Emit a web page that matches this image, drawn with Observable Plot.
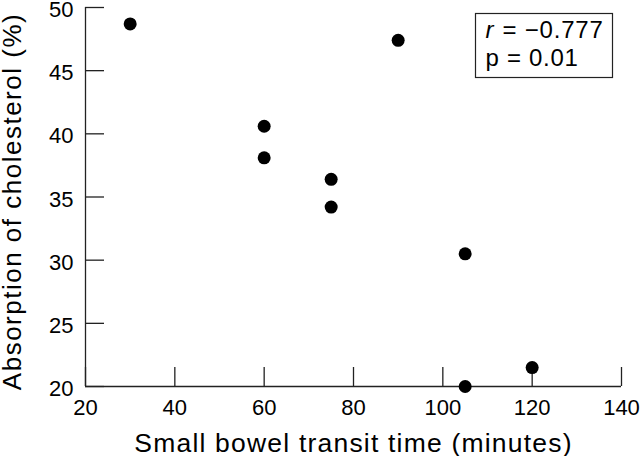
<!DOCTYPE html>
<html>
<head>
<meta charset="utf-8">
<script src="https://cdn.jsdelivr.net/npm/d3@7"></script>
<script src="https://cdn.jsdelivr.net/npm/@observablehq/plot@0.6"></script>
<style>
  html, body { margin: 0; padding: 0; background: #fff; }
  #chart svg { display: block; }
</style>
</head>
<body>
<div id="chart"></div>
<script>
// Data
const transitTime = [30, 60, 60, 75, 75, 90, 105, 105, 120];
const absorption = [48.7, 40.6, 38.1, 36.4, 34.2, 47.4, 30.5, 20.0, 21.5];
const xTicks = [20, 40, 60, 80, 100, 120, 140];
const yTicks = [20, 25, 30, 35, 40, 45, 50];
const xTitle = "Small bowel transit time (minutes)";
const yTitle = "Absorption of cholesterol (%)";
const statR = "= \u22120.777";
const statP = "p = 0.01";

const points = transitTime.map((t, i) => ({t, a: absorption[i]}));

const W = 640, H = 456;
const mL = 85, mR = 19, mT = 7, mB = 70;
const fw = W - mL - mR, fh = H - mT - mB;
const tick = 19;
const ink = "#222";
const font = "'Liberation Sans', Arial, Helvetica, sans-serif";

const chart = Plot.plot({
  width: W,
  height: H,
  marginLeft: mL,
  marginRight: mR,
  marginTop: mT,
  marginBottom: mB,
  style: {fontFamily: font, fontSize: "22px", color: ink, background: "#fff"},
  x: {domain: [20, 140]},
  y: {domain: [20, 50]},
  marks: [
    Plot.axisX({ticks: xTicks, tickSize: 0, tickPadding: 13, label: null, fontSize: 22, fill: "#000"}),
    Plot.axisY({ticks: yTicks, tickSize: 0, tickPadding: 12, dy: 2.5, label: null, fontSize: 22, fill: "#000"}),
    // inward ticks
    Plot.ruleX(xTicks, {x: d => d, insetTop: fh - tick, stroke: ink, strokeWidth: 1.3}),
    Plot.ruleY(yTicks, {y: d => d, insetRight: fw - tick, stroke: ink, strokeWidth: 1.3}),
    // axis lines
    Plot.ruleX([20], {stroke: ink, strokeWidth: 1.3}),
    Plot.ruleY([20], {stroke: ink, strokeWidth: 1.3}),
    // points
    Plot.dot(points, {x: "t", y: "a", r: 6.5, fill: "#000", stroke: null}),
    // stats box
    Plot.frame({insetLeft: 390, insetRight: 9, insetTop: 6, insetBottom: 309, stroke: ink, strokeWidth: 1.2}),
    Plot.text([0], {text: () => "r", frameAnchor: "top-left", dx: 400, dy: 30, lineAnchor: "bottom", textAnchor: "start", fontSize: 24, fontStyle: "italic", fill: "#000"}),
    Plot.text([statR], {text: d => d, frameAnchor: "top-left", dx: 417, dy: 30, lineAnchor: "bottom", textAnchor: "start", fontSize: 24, fill: "#000"}),
    Plot.text([statP], {text: d => d, frameAnchor: "top-left", dx: 400, dy: 58, lineAnchor: "bottom", textAnchor: "start", fontSize: 24, fill: "#000"}),
    // axis titles
    Plot.text([xTitle], {text: d => d, frameAnchor: "bottom", dy: 65, lineAnchor: "bottom", textAnchor: "middle", fontSize: 26.5, fill: "#000"}),
    Plot.text([yTitle], {text: d => d, frameAnchor: "left", dx: -65, dy: 4.5, rotate: -90, lineAnchor: "bottom", textAnchor: "middle", fontSize: 26, fill: "#000"})
  ]
});

// widen letter spacing of titles / stats to match the reference face
const spacing = new Map([[xTitle, 1.2], [yTitle, 1.5], [statR, 0.8], [statP, 0.7]]);
d3.select(chart).selectAll("text").each(function () {
  const s = spacing.get(this.textContent);
  if (s != null) this.setAttribute("letter-spacing", s);
});

document.getElementById("chart").appendChild(chart);
</script>
</body>
</html>
